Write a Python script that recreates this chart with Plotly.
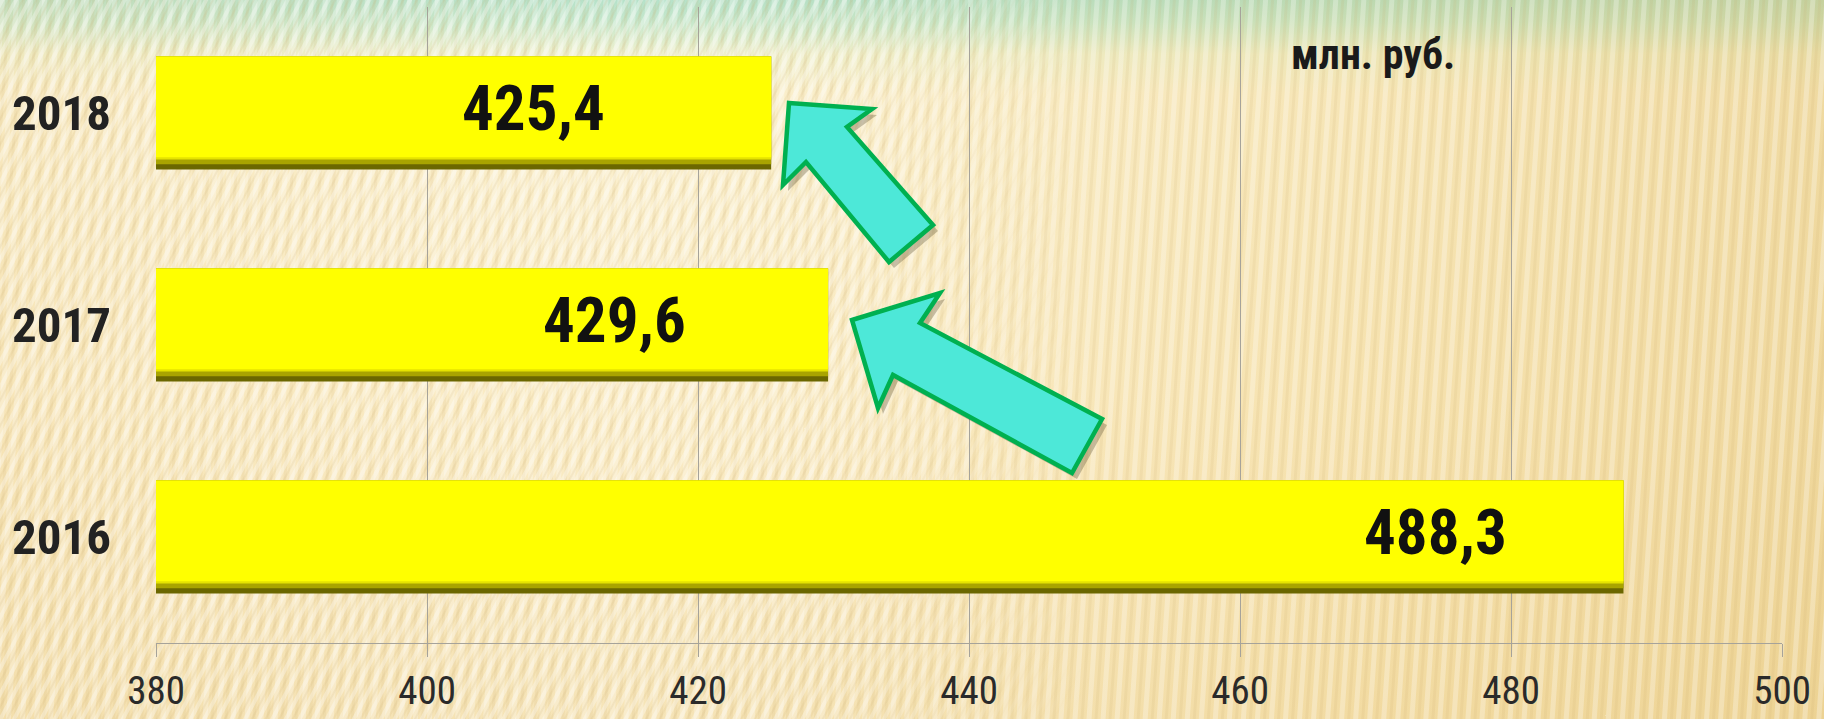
import base64
import plotly.graph_objects as go

# ---- data ----
years = ["2016", "2017", "2018"]
values = [488.3, 429.6, 425.4]
value_labels = ["488,3", "429,6", "425,4"]
x_ticks = [380, 400, 420, 440, 460, 480, 500]
unit_label = "млн. руб."

W, H = 1824, 719
L, R, T, B = 156, 42, 7, 76
PW, PH = W - L - R, H - T - B

FONT = "Roboto Condensed, Liberation Sans Narrow, DejaVu Sans Condensed, sans-serif"

def px(xp, yp):
    return (xp - L) / PW, (H - B - yp) / PH

# ---- background (SVG gradient + stripes) ----
svg = f'''<svg xmlns="http://www.w3.org/2000/svg" width="{W}" height="{H}" viewBox="0 0 {W} {H}" preserveAspectRatio="none">
<defs>
<linearGradient id="v" x1="0" y1="0" x2="0" y2="1">
<stop offset="0" stop-color="#8fd8c4"/>
<stop offset="0.03" stop-color="#a9e2c9"/>
<stop offset="0.075" stop-color="#e8efcb"/>
<stop offset="0.13" stop-color="#f9eecb"/>
<stop offset="0.55" stop-color="#f9e9c0"/>
<stop offset="1" stop-color="#f2dca8"/>
</linearGradient>
<linearGradient id="h" x1="0" y1="0" x2="1" y2="0">
<stop offset="0" stop-color="#f5e1b0" stop-opacity="0.5"/>
<stop offset="0.35" stop-color="#fdf3d4" stop-opacity="0.35"/>
<stop offset="0.75" stop-color="#f2d999" stop-opacity="0.45"/>
<stop offset="1" stop-color="#e9cc85" stop-opacity="0.6"/>
</linearGradient>
<pattern id="s1" width="12" height="12" patternUnits="userSpaceOnUse" patternTransform="rotate(28)">
<rect x="0" y="0" width="4" height="12" fill="#ffffff" fill-opacity="0.32"/>
<rect x="7" y="0" width="2" height="12" fill="#c9a860" fill-opacity="0.12"/>
</pattern>
<pattern id="s2" width="14" height="14" patternUnits="userSpaceOnUse" patternTransform="rotate(4)">
<rect x="0" y="0" width="5" height="14" fill="#ffffff" fill-opacity="0.28"/>
<rect x="8" y="0" width="3" height="14" fill="#c9a860" fill-opacity="0.12"/>
</pattern>
<linearGradient id="m" x1="0" y1="0" x2="1" y2="0">
<stop offset="0" stop-color="#fff" stop-opacity="1"/>
<stop offset="0.45" stop-color="#fff" stop-opacity="1"/>
<stop offset="0.6" stop-color="#fff" stop-opacity="0"/>
</linearGradient>
<mask id="mk"><rect width="{W}" height="{H}" fill="url(#m)"/></mask>
</defs>
<rect width="{W}" height="{H}" fill="url(#v)"/>
<rect width="{W}" height="{H}" fill="url(#h)"/>
<rect width="{W}" height="{H}" fill="url(#s2)"/>
<rect width="{W}" height="{H}" fill="url(#s1)" mask="url(#mk)"/>
</svg>'''
bg_src = "data:image/svg+xml;base64," + base64.b64encode(svg.encode()).decode()

fig = go.Figure()

# ---- bars with bevel look ----
BW = 0.534
fig.add_trace(go.Bar(x=values, y=years, orientation="h", width=BW, offset=-BW / 2,
                     marker=dict(color="#6b6700", line=dict(width=0)), hoverinfo="skip"))
fig.add_trace(go.Bar(x=values, y=years, orientation="h", width=BW - 0.025, offset=-BW / 2 + 0.025,
                     marker=dict(color="#a9a400", line=dict(width=0)), hoverinfo="skip"))
fig.add_trace(go.Bar(x=values, y=years, orientation="h", width=BW - 0.048, offset=-BW / 2 + 0.048,
                     marker=dict(color="#e6e300", line=dict(width=0)), hoverinfo="skip"))
fig.add_trace(go.Bar(x=values, y=years, orientation="h", width=BW - 0.058, offset=-BW / 2 + 0.058,
                     marker=dict(color="#ffff00", line=dict(width=0)),
                     hovertemplate="%{y}: %{x}<extra></extra>"))

annotations = []
gaps = [114, 140, 164]
for i, (v, lab, g) in enumerate(zip(values, value_labels, gaps)):
    annotations.append(dict(x=v, y=i, xref="x", yref="y", text=f"<b>{lab}</b>",
                            showarrow=False, xanchor="right", yanchor="middle",
                            xshift=-g, yshift=5,
                            font=dict(family=FONT, size=63, color="#111111")))

cx, cy = px(1373, 55)
annotations.append(dict(x=cx, y=cy, xref="paper", yref="paper", text=f"<b>{unit_label}</b>",
                        showarrow=False, xanchor="center", yanchor="middle",
                        font=dict(family=FONT, size=42, color="#1a1a1a")))

# ---- arrows (decorations) ----
arrow1 = [(789, 103), (872, 109), (847, 127), (933, 225), (889, 262), (806, 162), (783, 185)]
arrow2 = [(852, 320), (940, 293), (920, 323), (1102, 419), (1072, 473), (893, 375), (878, 408)]

def path_of(pts, dx=0, dy=0):
    s = ""
    for i, (a, b) in enumerate(pts):
        xp, yp = px(a + dx, b + dy)
        s += ("M" if i == 0 else "L") + f"{xp:.5f},{yp:.5f} "
    return s + "Z"

shapes = []
for pts in (arrow1, arrow2):
    shapes.append(dict(type="path", xref="paper", yref="paper", path=path_of(pts, 5, 6),
                       fillcolor="rgba(60,50,20,0.28)", line=dict(width=0), layer="above"))
for pts in (arrow1, arrow2):
    shapes.append(dict(type="path", xref="paper", yref="paper", path=path_of(pts),
                       fillcolor="#4de8d8", line=dict(color="#00b050", width=4.5), layer="above"))

fig.update_layout(
    width=W, height=H,
    margin=dict(l=L, r=R, t=T, b=B, pad=0, autoexpand=False),
    paper_bgcolor="#f8ebc4", plot_bgcolor="rgba(0,0,0,0)",
    barmode="overlay", showlegend=False,
    annotations=annotations, shapes=shapes,
    images=[dict(source=bg_src, xref="paper", yref="paper",
                 x=-L / PW, y=1 + T / PH, sizex=W / PW, sizey=H / PH,
                 xanchor="left", yanchor="top", sizing="stretch", layer="below")],
    xaxis=dict(range=[380, 500], tickvals=x_ticks, ticktext=[str(t) for t in x_ticks],
               automargin=False,
               showgrid=True, gridcolor="#a6a39a", gridwidth=1.3,
               showline=True, linecolor="#a6a39a", linewidth=1.3,
               ticks="outside", ticklen=13, tickcolor="#a6a39a", tickwidth=1.3,
               ticklabelstandoff=0, zeroline=False,
               tickfont=dict(family=FONT, size=39, color="#2a2a2a")),
    yaxis=dict(type="category", categoryorder="array", categoryarray=years,
               automargin=False,
               range=[-0.5, 2.5], showgrid=False, showline=False, ticks="",
               ticklabelstandoff=44,
               tickfont=dict(family=FONT, size=49, color="#222222", weight="bold")),
)

fig.write_html("out.html", config={"displayModeBar": False},
               post_script="document.body.style.margin='0';document.body.style.overflow='hidden';")
